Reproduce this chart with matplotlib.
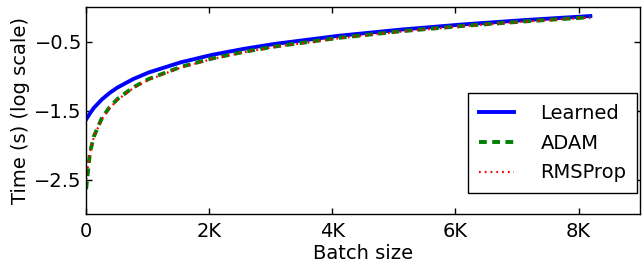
import matplotlib
matplotlib.use("Agg")
import matplotlib.pyplot as plt
from matplotlib.ticker import FuncFormatter

batch_sizes = [1, 64, 128, 256, 384, 512, 768, 1024, 1536, 2048, 2560, 3072,
               4096, 5120, 6144, 7168, 8192]
learned = [-1.63, -1.54, -1.46, -1.34, -1.244, -1.166, -1.043, -0.947, -0.802,
           -0.693, -0.607, -0.534, -0.418, -0.327, -0.251, -0.187, -0.131]
adam = [-2.64, -2.106, -1.874, -1.612, -1.450, -1.332, -1.163, -1.041, -0.869,
        -0.746, -0.650, -0.572, -0.448, -0.351, -0.273, -0.206, -0.148]
rmsprop = [-2.50, -2.10, -1.88, -1.625, -1.465, -1.345, -1.175, -1.052, -0.878,
           -0.754, -0.657, -0.578, -0.454, -0.356, -0.277, -0.210, -0.152]

x_ticks = [0, 2000, 4000, 6000, 8000]
x_tick_labels = ["0", "2K", "4K", "6K", "8K"]
y_ticks = [-2.5, -1.5, -0.5]

FS = 14

fig = plt.figure(figsize=(6.42, 2.64), dpi=100)
ax = fig.add_axes([0.134, 0.189, 0.863, 0.7845])

ax.plot(batch_sizes, learned, color=(0, 0, 1), linestyle='-', linewidth=2.8, label='Learned')
ax.plot(batch_sizes, adam, color=(0, 0.5, 0), linewidth=2.8, dashes=(2.0, 1.4), label='ADAM')
ax.plot(batch_sizes, rmsprop, color=(1, 0, 0), linewidth=1.6, dashes=(0.8, 1.8), label='RMSProp')

ax.set_xlim(0, 9000)
ax.set_ylim(-3, 0)
ax.set_xticks(x_ticks)
ax.set_xticklabels(x_tick_labels)
ax.set_yticks(y_ticks)
ax.yaxis.set_major_formatter(FuncFormatter(lambda v, p: ("%.1f" % v).replace('-', '\u2212')))

ax.tick_params(direction='in', top=True, right=True, length=4, width=1,
               labelsize=FS)
ax.tick_params(axis='x', pad=6)
ax.tick_params(axis='y', pad=3)
for s in ax.spines.values():
    s.set_linewidth(1.0)
    s.set_color('black')

ax.set_xlabel('Batch size', fontsize=FS, labelpad=2)
ax.set_ylabel('Time (s) (log scale)', fontsize=FS, labelpad=3)

leg = ax.legend(loc='lower right', bbox_to_anchor=(0.9946, 0.101), fontsize=FS,
                frameon=True, fancybox=False, handlelength=1.8, borderpad=0.55,
                labelspacing=0.55, handletextpad=1.35, borderaxespad=0.0)
leg.get_frame().set_edgecolor('black')
leg.get_frame().set_linewidth(1.0)
leg.get_frame().set_alpha(1)

fig.savefig('out.png', dpi=100)
